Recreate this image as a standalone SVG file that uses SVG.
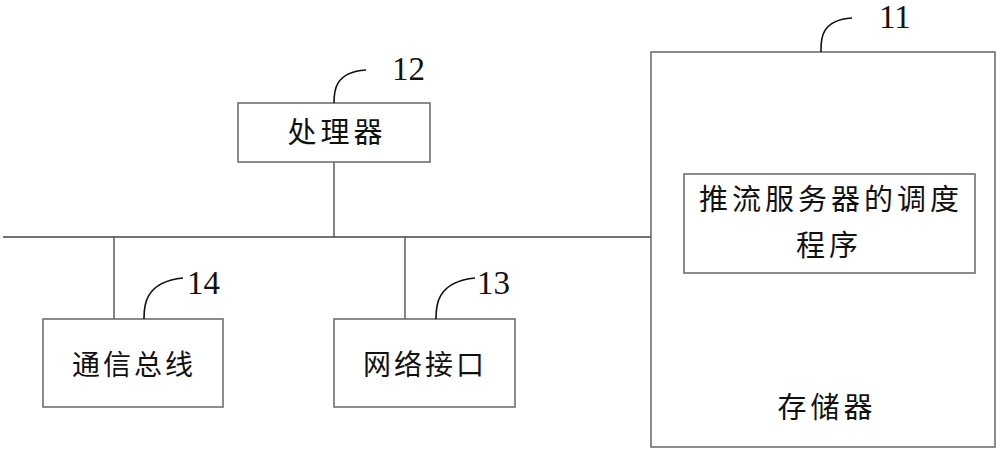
<svg xmlns="http://www.w3.org/2000/svg" width="1000" height="450" viewBox="0 0 1000 450">
<style>
.box{fill:#fff;stroke:#666;stroke-width:1.5}
.ln{fill:none;stroke:#444;stroke-width:1.3}
.lead{fill:none;stroke:#111;stroke-width:1.6}
.cn{font-family:"Noto Sans CJK SC","Noto Sans CJK JP",sans-serif;font-size:29px;letter-spacing:4px;fill:#111;text-anchor:middle}
.cs{font-size:28px;letter-spacing:3px}
.num{font-family:"Liberation Serif",serif;font-size:33px;fill:#111}
</style>
<rect width="1000" height="450" fill="#fff"/>
<g id="connectors">
<path class="ln" d="M3 237H651"/>
<path class="ln" d="M334 162V237"/>
<path class="ln" d="M114 237V319"/>
<path class="ln" d="M405 237V319"/>
</g>
<g id="processor">
<rect class="box" x="238" y="103" width="192" height="59"/>
<text class="cn" x="337" y="143">处理器</text>
<path class="lead" d="M334 103C334 92 334 72 366 70"/>
<text class="num" x="392" y="80">12</text>
</g>
<g id="memory">
<rect class="box" x="651" y="52" width="344" height="395"/>
<path class="lead" d="M821 52C821 42 819 20 852 18"/>
<text class="num" x="879" y="28">11</text>
<rect class="box" x="684" y="174" width="291" height="99"/>
<text class="cn" x="831" y="210">推流服务器的调度</text>
<text class="cn" x="829" y="256">程序</text>
<text class="cn" x="827" y="418">存储器</text>
</g>
<g id="bus">
<rect class="box" x="43" y="319" width="180" height="88"/>
<text class="cn cs" x="134" y="375">通信总线</text>
<path class="lead" d="M144 319C144 308 143 282 183 278"/>
<text class="num" x="187" y="294">14</text>
</g>
<g id="netif">
<rect class="box" x="334" y="319" width="181" height="88"/>
<text class="cn cs" x="425" y="375">网络接口</text>
<path class="lead" d="M436 319C436 308 435 282 475 278"/>
<text class="num" x="477" y="294">13</text>
</g>
</svg>
